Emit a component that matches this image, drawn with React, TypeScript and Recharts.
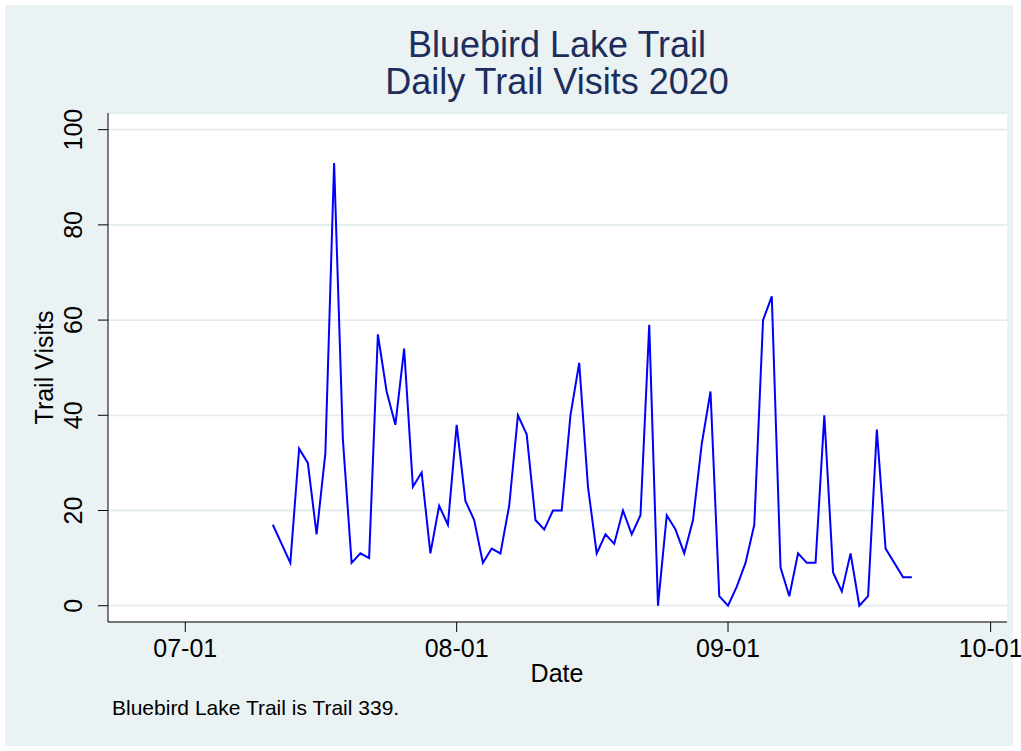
import { LineChart, Line, XAxis, YAxis, CartesianGrid } from 'recharts';

const FONT = '"Liberation Sans", Arial, Helvetica, sans-serif';
const TITLE_COLOR = '#1d2d5c';

const dates = [
  '07-11', '07-13', '07-14', '07-15', '07-16', '07-17', '07-18', '07-19', '07-20', '07-21',
  '07-22', '07-23', '07-24', '07-25', '07-26', '07-27', '07-28', '07-29', '07-30', '07-31',
  '08-01', '08-02', '08-03', '08-04', '08-05', '08-06', '08-07', '08-08', '08-09', '08-10',
  '08-11', '08-12', '08-13', '08-14', '08-15', '08-16', '08-17', '08-18', '08-19', '08-20',
  '08-21', '08-22', '08-23', '08-24', '08-25', '08-26', '08-27', '08-28', '08-29', '08-30',
  '08-31', '09-01', '09-02', '09-03', '09-04', '09-05', '09-06', '09-07', '09-08', '09-09',
  '09-10', '09-11', '09-12', '09-13', '09-14', '09-15', '09-16', '09-17', '09-18', '09-19',
  '09-21', '09-22',
];

const visits = [
  17, 9, 33, 30, 15, 32, 93, 35, 9, 11,
  10, 57, 45, 38, 54, 25, 28, 11, 21, 17,
  38, 22, 18, 9, 12, 11, 21, 40, 36, 18,
  16, 20, 20, 40, 51, 25, 11, 15, 13, 20,
  15, 19, 59, 0, 19, 16, 11, 18, 34, 45,
  2, 0, 4, 9, 17, 60, 65, 8, 2, 11,
  9, 9, 40, 7, 3, 11, 0, 2, 37, 12,
  6, 6,
];

const xTickLabels = ['07-01', '08-01', '09-01', '10-01'];
const yTicks = [0, 20, 40, 60, 80, 100];

// days since 07-01 (2020)
const MONTH_START: Record<string, number> = { '07': 0, '08': 31, '09': 62, '10': 92 };
const toDay = (md: string) => MONTH_START[md.slice(0, 2)] + Number(md.slice(3)) - 1;

const data = dates.map((d, i) => ({ day: toDay(d), visits: visits[i] }));
const xTicks = xTickLabels.map(toDay);
const dayLabel = (v: number) => xTickLabels[xTicks.indexOf(v)] ?? '';

const YTick = ({ x, y, payload }: any) => (
  <g transform={`translate(${x - 14},${y}) rotate(-90)`}>
    <text x={0} y={0} textAnchor="middle" fontSize={25} fontFamily={FONT} fill="#000">
      {payload.value}
    </text>
  </g>
);

export default function App() {
  return (
    <div style={{ position: 'absolute', left: 0, top: 0, width: 1021, height: 751, background: '#fff' }}>
      <div
        style={{ position: 'absolute', left: 5, top: 5, width: 1008, height: 741, background: '#eaf2f3' }}
      />
      <div style={{ position: 'absolute', left: 0, top: 0 }}>
        <LineChart
          width={1021}
          height={751}
          data={data}
          margin={{ top: 113, right: 14, bottom: 69, left: 0 }}
        >
          <CartesianGrid vertical={false} fill="#fff" stroke="#e3ecee" strokeWidth={1.8} />
          <XAxis
            dataKey="day"
            type="number"
            domain={[-8.83, 93.87]}
            allowDataOverflow
            ticks={xTicks}
            tickFormatter={dayLabel}
            height={60}
            tickSize={10}
            tickMargin={7}
            stroke="#000"
            tick={{ fill: '#000', fontSize: 25, fontFamily: FONT }}
          />
          <YAxis
            type="number"
            domain={[-3.42, 103.5]}
            allowDataOverflow
            ticks={yTicks}
            width={108}
            tickSize={10}
            stroke="#000"
            tick={<YTick />}
          />
          <Line
            type="linear"
            dataKey="visits"
            stroke="#0000ff"
            strokeWidth={2}
            dot={false}
            isAnimationActive={false}
          />
        </LineChart>
      </div>
      <svg
        width={1021}
        height={751}
        style={{ position: 'absolute', left: 0, top: 0, pointerEvents: 'none' }}
        fontFamily={FONT}
      >
        <text x={557} y={57} textAnchor="middle" fontSize={36} fill={TITLE_COLOR}>
          Bluebird Lake Trail
        </text>
        <text x={557} y={94} textAnchor="middle" fontSize={36} fill={TITLE_COLOR}>
          Daily Trail Visits 2020
        </text>
        <text x={557} y={682} textAnchor="middle" fontSize={25} fill="#000">
          Date
        </text>
        <text
          x={0}
          y={0}
          transform="translate(53,367.5) rotate(-90)"
          textAnchor="middle"
          fontSize={25}
          fill="#000"
        >
          Trail Visits
        </text>
        <text x={112} y={715} fontSize={21} fill="#000">
          Bluebird Lake Trail is Trail 339.
        </text>
      </svg>
    </div>
  );
}
